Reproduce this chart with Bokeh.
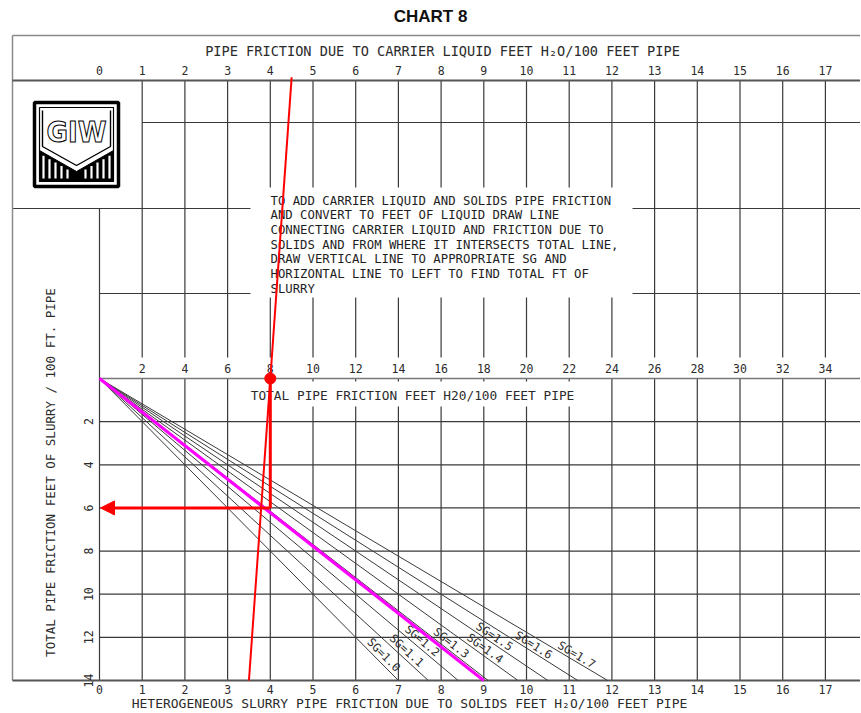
import math
from bokeh.plotting import figure
from bokeh.models import Range1d, ColumnDataSource, Arrow, NormalHead
from bokeh.core.properties import value
from bokeh.embed import file_html
from bokeh.resources import INLINE

# ---------------- data ----------------
carrier_ticks = list(range(0, 18))            # top scale, ft H2O / 100 ft (carrier liquid)
total_ticks = list(range(2, 36, 2))           # middle scale, total ft H2O / 100 ft
solids_ticks = list(range(0, 18))             # bottom scale, ft H2O / 100 ft (solids)
slurry_ticks = [2, 4, 6, 8, 10, 12, 14]       # left scale, ft slurry / 100 ft
slurry_max = 14
sg_values = [1.0, 1.1, 1.2, 1.3, 1.4, 1.5, 1.6, 1.7]
sg_end_solids = [7.0, 7.7, 8.4, 9.1, 9.8, 10.5, 11.2, 11.9]   # bottom-scale value where each SG line ends
sg_labels = ["SG=1.0", "SG=1.1", "SG=1.2", "SG=1.3", "SG=1.4", "SG=1.5", "SG=1.6", "SG=1.7"]
example_carrier = 4.5
example_solids = 3.5
example_total = 8.0
example_slurry = 6.0
magenta_end_solids = 9.0

note_lines = [
    "TO ADD CARRIER LIQUID AND SOLIDS PIPE FRICTION",
    "AND CONVERT TO FEET OF LIQUID DRAW LINE",
    "CONNECTING CARRIER LIQUID AND FRICTION DUE TO",
    "SOLIDS AND FROM WHERE IT INTERSECTS TOTAL LINE,",
    "DRAW VERTICAL LINE TO APPROPRIATE SG AND",
    "HORIZONTAL LINE TO LEFT TO FIND TOTAL FT OF",
    "SLURRY",
]

# ---------------- layout helpers (page pixel -> chart units) ----------------
W, H = 860, 712
X0, SX = 99.0, 42.7      # page x of scale 0, px per unit
Y0, SY = 378.0, 21.57    # page y of slurry 0, px per ft


def ux(xp):
    return (xp - X0) / SX


def dy(yp):
    return (yp - Y0) / SY


p = figure(width=W, height=H, output_backend="svg", toolbar_location=None,
           x_range=Range1d(ux(0), ux(W)), y_range=Range1d(dy(H), dy(0)),
           x_axis_location=None, y_axis_location=None, min_border=0,
           background_fill_color="white", border_fill_color="white")
p.outline_line_color = None
p.xgrid.visible = False
p.ygrid.visible = False

FONT = value("DejaVu Sans Mono")
INK = "#2b2b2b"

D_FRAME_TOP = dy(35)
D_TOP_AXIS = dy(80)
D_H1 = dy(122)
D_H2 = dy(208)
D_H3 = dy(293)
D_MIDLAB = dy(357)
U_FRAME = ux(12)
U_RIGHT = ux(880)

# ---------------- grid ----------------
x0s, y0s, x1s, y1s = [], [], [], []
for u in carrier_ticks[1:]:
    x0s += [u]; y0s += [D_TOP_AXIS]; x1s += [u]; y1s += [D_MIDLAB]
for u in solids_ticks:
    x0s += [u]; y0s += [0]; x1s += [u]; y1s += [slurry_max]
x0s += [0]; y0s += [D_H2]; x1s += [0]; y1s += [0]
for yy, xa in [(D_H1, 1), (D_H2, U_FRAME), (D_H3, 0)]:
    x0s += [xa]; y0s += [yy]; x1s += [U_RIGHT]; y1s += [yy]
for s in slurry_ticks[:-1]:
    x0s += [0]; y0s += [s]; x1s += [U_RIGHT]; y1s += [s]
p.segment(x0=x0s, y0=y0s, x1=x1s, y1=y1s, line_color="#3a3a3a", line_width=1.2)

# frame and axis lines
p.segment(x0=[U_FRAME], y0=[D_FRAME_TOP], x1=[U_FRAME], y1=[slurry_max], line_color="#8a8a8a", line_width=1.5)
p.segment(x0=[U_FRAME], y0=[D_FRAME_TOP], x1=[U_RIGHT], y1=[D_FRAME_TOP], line_color="#8a8a8a", line_width=1.5)
p.segment(x0=[U_FRAME], y0=[D_TOP_AXIS], x1=[U_RIGHT], y1=[D_TOP_AXIS], line_color="#555555", line_width=2.2)
p.segment(x0=[0], y0=[0], x1=[U_RIGHT], y1=[0], line_color="#777777", line_width=1.6)
p.segment(x0=[U_FRAME], y0=[slurry_max], x1=[U_RIGHT], y1=[slurry_max], line_color="#555555", line_width=2)

# white panels (note box, middle title band)
p.quad(left=[ux(250), ux(244)], right=[ux(632), ux(582)],
       top=[dy(187), dy(381)], bottom=[dy(297), dy(406)],
       fill_color="white", line_color=None)

# ---------------- SG fan ----------------
sg_src = ColumnDataSource(dict(
    x0=[0] * len(sg_values), y0=[0] * len(sg_values),
    x1=sg_end_solids, y1=[slurry_max] * len(sg_values)))
p.segment(x0="x0", y0="y0", x1="x1", y1="y1", source=sg_src, line_color="#3a3a3a", line_width=1)

label_depth = [12.9, 12.7, 12.25, 12.35, 12.6, 12.05, 12.45, 12.9]
lx, ly, la = [], [], []
for e, dd in zip(sg_end_solids, label_depth):
    ang = -math.atan2(slurry_max * SY, e * SX)
    u_on = e * dd / slurry_max
    # shift a few px to the right of its line
    lx.append(u_on + 9 / SX)
    ly.append(dd - 2 / SY)
    la.append(ang)
p.text(x=lx, y=ly, text=sg_labels, angle=la, text_font=FONT, text_font_size="11.5px",
       text_align="center", text_baseline="middle", text_color=INK)

# ---------------- scale labels ----------------
p.text(x=carrier_ticks, y=[dy(70)] * len(carrier_ticks), text=[str(v) for v in carrier_ticks],
       text_font=FONT, text_font_size="11.5px", text_align="center", text_baseline="middle", text_color=INK)
p.text(x=[t / 2 for t in total_ticks], y=[dy(368)] * len(total_ticks), text=[str(v) for v in total_ticks],
       text_font=FONT, text_font_size="11.5px", text_align="center", text_baseline="middle", text_color=INK)
p.text(x=solids_ticks, y=[dy(689)] * len(solids_ticks), text=[str(v) for v in solids_ticks],
       text_font=FONT, text_font_size="11.5px", text_align="center", text_baseline="middle", text_color=INK)
p.text(x=[ux(88)] * len(slurry_ticks), y=slurry_ticks, text=[str(v) for v in slurry_ticks],
       angle=math.pi / 2, text_font=FONT, text_font_size="11.5px", text_align="center",
       text_baseline="middle", text_color=INK)

# titles
p.text(x=[ux(430)], y=[dy(16)], text=["CHART 8"], text_font=value("Liberation Sans"),
       text_font_style="bold", text_font_size="17px", text_align="center", text_baseline="middle",
       text_color="#111111")
p.text(x=[ux(442)], y=[dy(50)], text=["PIPE FRICTION DUE TO CARRIER LIQUID FEET H\u2082O/100 FEET PIPE"],
       text_font=FONT, text_font_size="13.6px", text_align="center", text_baseline="middle", text_color=INK)
p.text(x=[ux(412)], y=[dy(395)], text=["TOTAL PIPE FRICTION FEET H20/100 FEET PIPE"],
       text_font=FONT, text_font_size="12.8px", text_align="center", text_baseline="middle", text_color=INK)
p.text(x=[ux(409)], y=[dy(703)], text=["HETEROGENEOUS SLURRY PIPE FRICTION DUE TO SOLIDS FEET H\u2082O/100 FEET PIPE"],
       text_font=FONT, text_font_size="13px", text_align="center", text_baseline="middle", text_color=INK)
p.text(x=[ux(50)], y=[dy(472)], text=["TOTAL PIPE FRICTION FEET OF SLURRY / 100 FT. PIPE"],
       angle=math.pi / 2, text_font=FONT, text_font_size="12.5px", text_align="center",
       text_baseline="middle", text_color=INK)

# note text
p.text(x=[ux(270)] * len(note_lines), y=[dy(200 + 14.7 * i) for i in range(len(note_lines))],
       text=note_lines, text_font=FONT, text_font_size="12.3px", text_align="left",
       text_baseline="middle", text_color="#1e1e1e")

# ---------------- GIW logo ----------------
p.quad(left=[ux(34)], right=[ux(118)], top=[dy(102)], bottom=[dy(186)],
       fill_color="white", line_color="black", line_width=3.5)
p.quad(left=[ux(39)], right=[ux(113)], top=[dy(107)], bottom=[dy(181)],
       fill_color=None, line_color="black", line_width=1.2)
vx = [39, 76, 113, 113, 39]
vy = [150, 171, 150, 181, 181]
p.patch(x=[ux(v) for v in vx], y=[dy(v) for v in vy], fill_color="black", line_color="black")
sx0, sy0, sx1, sy1 = [], [], [], []
for xs in range(43, 112, 6):
    if abs(xs - 76) < 8:
        continue
    vtop = 150 + (xs - 39) * 21 / 37 if xs < 76 else 171 - (xs - 76) * 21 / 37
    sx0.append(ux(xs)); sx1.append(ux(xs)); sy0.append(dy(vtop + 3)); sy1.append(dy(178))
p.segment(x0=sx0, y0=sy0, x1=sx1, y1=sy1, line_color="white", line_width=2.2)
p.line(x=[ux(v) for v in [42, 42, 76, 110, 110]], y=[dy(v) for v in [110, 146, 165, 146, 110]],
       line_color="black", line_width=1.4)
p.text(x=[ux(76)], y=[dy(131)], text=["GIW"],
       text_font=value("DejaVu Sans Condensed, Roboto Condensed, Liberation Sans Narrow, DejaVu Sans"),
       text_font_style="bold", text_font_size="29px", text_align="center", text_baseline="middle",
       text_color="white", text_outline_color="black")

# ---------------- example construction ----------------
p.segment(x0=[0], y0=[0], x1=[magenta_end_solids], y1=[slurry_max], line_color="#ff00ff", line_width=3.2)
p.segment(x0=[example_carrier], y0=[D_TOP_AXIS - 0.15], x1=[example_solids], y1=[slurry_max],
          line_color="#ff0000", line_width=2)
p.segment(x0=[example_total / 2], y0=[0], x1=[example_total / 2], y1=[example_slurry],
          line_color="#ff0000", line_width=3)
p.add_layout(Arrow(end=NormalHead(size=14, fill_color="#ff0000", line_color="#ff0000"),
                   x_start=example_total / 2, y_start=example_slurry, x_end=ux(100), y_end=example_slurry,
                   line_color="#ff0000", line_width=3))
p.scatter(x=[example_total / 2], y=[0], size=11, fill_color="#ff0000", line_color="#ff0000")

open("out.html", "w").write(file_html(p, INLINE))
